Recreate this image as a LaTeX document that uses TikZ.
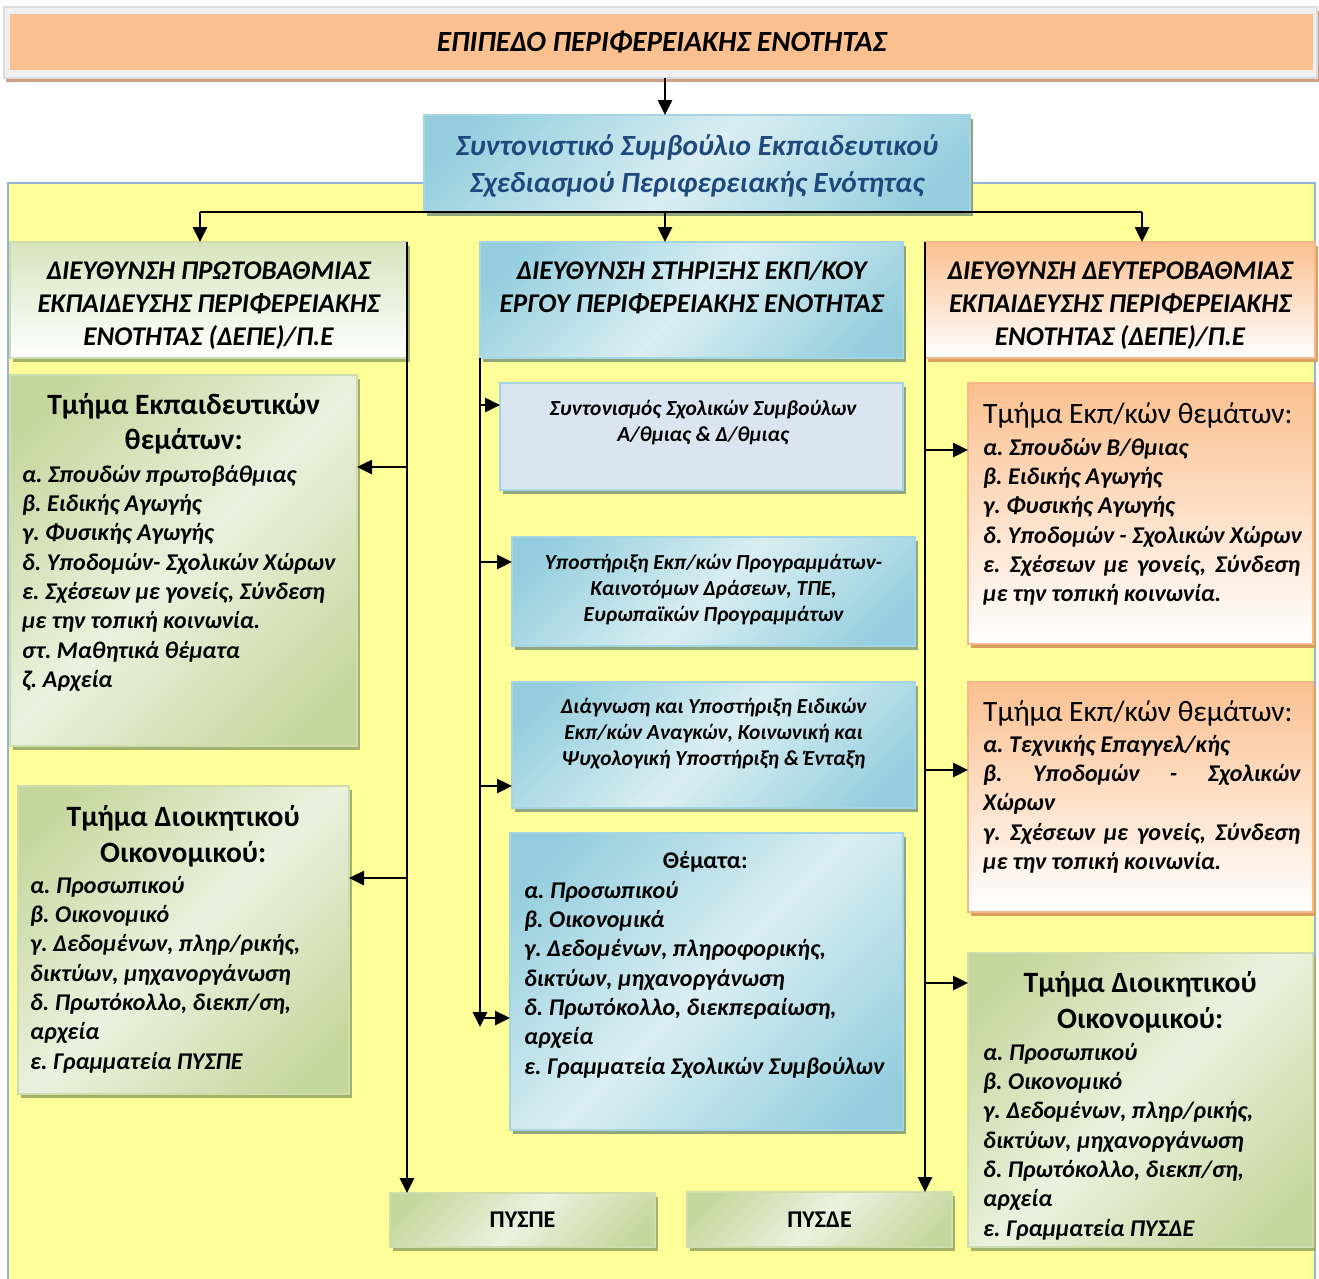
\documentclass[tikz,border=0pt]{standalone}
\usepackage{fontspec}
\setmainfont{Carlito}
\usetikzlibrary{arrows.meta,shadows}

% Farben
\definecolor{grnD}{HTML}{C3D69B}
\definecolor{grnL}{HTML}{EBF1DE}
\definecolor{grnH}{HTML}{D7E4BD}
\definecolor{grnB}{HTML}{CDDDAC}
\definecolor{grnS}{HTML}{A3B16A}
\definecolor{bluD}{HTML}{93CDDD}
\definecolor{bluL}{HTML}{DAEEF3}
\definecolor{bluB}{HTML}{A5D5E2}
\definecolor{bluS}{HTML}{8FA67E}
\definecolor{orgT}{HTML}{FAC090}
\definecolor{orgB}{HTML}{F6B88A}
\definecolor{orgS}{HTML}{D5A15D}
\definecolor{lavF}{HTML}{DBE5F1}
\definecolor{yelF}{HTML}{FFFF99}
\definecolor{yelB}{HTML}{95B3D7}
\definecolor{gryF}{HTML}{F0F0F0}
\definecolor{gryB}{HTML}{DCDCDC}
\definecolor{banS}{HTML}{CCA385}
\definecolor{navyT}{HTML}{1F497D}

\pgfdeclareverticalshading{grndiag}{100bp}{color(0bp)=(grnD); color(20bp)=(grnD); color(50bp)=(grnL); color(80bp)=(grnD); color(100bp)=(grnD)}
\pgfdeclareverticalshading{bludiag}{100bp}{color(0bp)=(bluD); color(20bp)=(bluD); color(50bp)=(bluL); color(80bp)=(bluD); color(100bp)=(bluD)}

% Schriften
\newcommand{\itm}{\fontsize{24}{29.3}\selectfont\bfseries\itshape}
\newcommand{\sml}{\fontsize{21.4}{25.8}\selectfont\bfseries\itshape}
\newcommand{\ttl}{\fontsize{29.5}{36}\selectfont\bfseries\upshape}
\newcommand{\ottl}{\fontsize{29.5}{36}\selectfont\mdseries\upshape}
\newcommand{\hdf}{\fontsize{27}{33}\selectfont\bfseries\itshape}
\newcommand{\cnf}{\fontsize{29.3}{37}\selectfont\bfseries\itshape}
\newcommand{\bnf}{\fontsize{29.3}{35}\selectfont\bfseries\itshape}
\newcommand{\pyf}{\fontsize{24}{29}\selectfont\bfseries\upshape}
\newcommand{\hgt}{\rule{0pt}{25pt}}

\tikzset{
  panel/.style={inner sep=0pt,outer sep=0pt,anchor=north west,line width=1.5pt},
  grnbox/.style={panel,draw=grnB,shading=grndiag,shading angle=45,
    drop shadow={shadow xshift=3pt,shadow yshift=-4pt,fill=grnS,opacity=1}},
  blubox/.style={panel,draw=bluB,shading=bludiag,shading angle=45,
    drop shadow={shadow xshift=3pt,shadow yshift=-4pt,fill=bluS,opacity=1}},
  orgbox/.style={panel,draw=orgB,top color=orgT,bottom color=white,
    drop shadow={shadow xshift=3pt,shadow yshift=-4pt,fill=orgS,opacity=1}},
  txt/.style={inner sep=0pt,anchor=north west,align=left,font=\itm},
  ctxt/.style={inner sep=0pt,anchor=north,align=center},
  lnk/.style={line width=2.6pt}
}

\begin{document}
\frenchspacing
\begin{tikzpicture}[x=1pt,y=-1pt,>={Triangle[length=15pt,width=14pt]}]
\useasboundingbox (0,0) rectangle (1319,1278);

% Kopfzeile
\node[panel,draw=gryB,fill=gryF,minimum width=1313pt,minimum height=71pt,
  drop shadow={shadow xshift=2pt,shadow yshift=-4pt,fill=banS,opacity=1}] (frame) at (4,7) {};
\node[panel,fill=orgT,minimum width=1303pt,minimum height=56pt,font=\bnf] (level) at (10,14)
  {ΕΠΙΠΕΔΟ ΠΕΡΙΦΕΡΕΙΑΚΗΣ ΕΝΟΤΗΤΑΣ};

% gelber Bereich
\draw[yelB,fill=yelF,line width=2.5pt] (8,183) rectangle (1315,1290);

\node[blubox,minimum width=546pt,minimum height=97pt] (council) at (424,115) {};
\node[ctxt,text=navyT,font=\cnf] (councilt) at ([shift={(0,15)}]council.north)
  {\hgt Συντονιστικό Συμβούλιο Εκπαιδευτικού\\Σχεδιασμού Περιφερειακής Ενότητας};

% Direktionen
\node[panel,draw=grnB,top color=grnH,bottom color=white,
  drop shadow={shadow xshift=3pt,shadow yshift=-4pt,fill=grnS,opacity=1},
  minimum width=397pt,minimum height=116pt] (dpe) at (10,242) {};
\node[ctxt,font=\hdf] (dpet) at ([shift={(0,12)}]dpe.north)
  {\hgt ΔΙΕΥΘΥΝΣΗ ΠΡΩΤΟΒΑΘΜΙΑΣ\\ΕΚΠΑΙΔΕΥΣΗΣ ΠΕΡΙΦΕΡΕΙΑΚΗΣ\\ΕΝΟΤΗΤΑΣ (ΔΕΠΕ)/Π.Ε};
\node[blubox,minimum width=423pt,minimum height=116pt] (dsee) at (480,242) {};
\node[ctxt,font=\hdf] (dseet) at ([shift={(0,12)}]dsee.north)
  {\hgt ΔΙΕΥΘΥΝΣΗ ΣΤΗΡΙΞΗΣ ΕΚΠ/ΚΟΥ\\ΕΡΓΟΥ ΠΕΡΙΦΕΡΕΙΑΚΗΣ ΕΝΟΤΗΤΑΣ};
\node[orgbox,minimum width=390pt,minimum height=116pt] (dde) at (925,242) {};
\node[ctxt,font=\hdf] (ddet) at ([shift={(0,12)}]dde.north)
  {\hgt ΔΙΕΥΘΥΝΣΗ ΔΕΥΤΕΡΟΒΑΘΜΙΑΣ\\ΕΚΠΑΙΔΕΥΣΗΣ ΠΕΡΙΦΕΡΕΙΑΚΗΣ\\ΕΝΟΤΗΤΑΣ (ΔΕΠΕ)/Π.Ε};

% linke Spalte
\node[grnbox,minimum width=347pt,minimum height=371pt] (edu1) at (10,375) {};
\node[txt] (edu1t) at ([shift={(12,14)}]edu1.north west)
  {\hgt\makebox[323pt]{\ttl Τμήμα Εκπαιδευτικών}\\[5.7pt]
   \makebox[323pt]{\ttl θεμάτων:}\\[3.7pt]
   α. Σπουδών πρωτοβάθμιας\\
   β. Ειδικής Αγωγής\\
   γ. Φυσικής Αγωγής\\
   δ. Υποδομών- Σχολικών Χώρων\\
   ε. Σχέσεων με γονείς, Σύνδεση\\
   με την τοπική κοινωνία.\\
   στ. Μαθητικά θέματα\\
   ζ. Αρχεία};

\node[grnbox,minimum width=331pt,minimum height=308pt] (adm1) at (18,786) {};
\node[txt] (adm1t) at ([shift={(12,15)}]adm1.north west)
  {\hgt\makebox[306pt]{\ttl Τμήμα Διοικητικού}\\[6.7pt]
   \makebox[306pt]{\ttl Οικονομικού:}\\[1.7pt]
   α. Προσωπικού\\
   β. Οικονομικό\\
   γ. Δεδομένων, πληρ/ρικής,\\
   δικτύων, μηχανοργάνωση\\
   δ. Πρωτόκολλο, διεκπ/ση,\\
   αρχεία\\
   ε. Γραμματεία ΠΥΣΠΕ};

% mittlere Spalte
\node[panel,draw=bluB,fill=lavF,minimum width=403pt,minimum height=107pt,
  drop shadow={shadow xshift=3pt,shadow yshift=-4pt,fill=bluS,opacity=1}] (coord) at (500,383) {};
\node[ctxt,font=\sml] (coordt) at ([shift={(1.5,7.3)}]coord.north)
  {\hgt Συντονισμός Σχολικών Συμβούλων\\Α/θμιας \& Δ/θμιας};

\node[blubox,minimum width=403pt,minimum height=109pt] (supp) at (512,537) {};
\node[ctxt,font=\sml] (suppt) at ([shift={(0,7.3)}]supp.north)
  {\hgt Υποστήριξη Εκπ/κών Προγραμμάτων-\\Καινοτόμων Δράσεων, ΤΠΕ,\\Ευρωπαϊκών Προγραμμάτων};

\node[blubox,minimum width=403pt,minimum height=126pt] (diag) at (512,682) {};
\node[ctxt,font=\sml] (diagt) at ([shift={(0,6.3)}]diag.north)
  {\hgt Διάγνωση και Υποστήριξη Ειδικών\\Εκπ/κών Αναγκών, Κοινωνική και\\Ψυχολογική Υποστήριξη \& Ένταξη};

\node[blubox,minimum width=393pt,minimum height=297pt] (themes) at (510,833) {};
\node[txt] (themest) at ([shift={(14,10)}]themes.north west)
  {\hgt\makebox[362pt]{\bfseries\upshape Θέματα:}\\[0.7pt]
   α. Προσωπικού\\
   β. Οικονομικά\\
   γ. Δεδομένων, πληροφορικής,\\
   δικτύων, μηχανοργάνωση\\
   δ. Πρωτόκολλο, διεκπεραίωση,\\
   αρχεία\\
   ε. Γραμματεία Σχολικών Συμβούλων};

% rechte Spalte
\node[orgbox,minimum width=345pt,minimum height=261pt] (edu2) at (968,383) {};
\node[txt] (edu2t) at ([shift={(15,15)}]edu2.north west)
  {\hgt{\ottl Τμήμα Εκπ/κών θεμάτων:}\\[2.7pt]
   α. Σπουδών Β/θμιας\\
   β. Ειδικής Αγωγής\\
   γ. Φυσικής Αγωγής\\
   δ. Υποδομών - Σχολικών Χώρων\\
   \makebox[317pt][s]{ε. Σχέσεων με γονείς, Σύνδεση}\\
   με την τοπική κοινωνία.};

\node[orgbox,minimum width=345pt,minimum height=230pt] (edu3) at (968,682) {};
\node[txt] (edu3t) at ([shift={(15,14)}]edu3.north west)
  {\hgt{\ottl Τμήμα Εκπ/κών θεμάτων:}\\[1.7pt]
   α. Τεχνικής Επαγγελ/κής\\
   \makebox[317pt][s]{β. Υποδομών - Σχολικών}\\
   Χώρων\\
   \makebox[317pt][s]{γ. Σχέσεων με γονείς, Σύνδεση}\\
   με την τοπική κοινωνία.};

\node[grnbox,minimum width=345pt,minimum height=294pt] (adm2) at (968,953) {};
\node[txt] (adm2t) at ([shift={(15,14)}]adm2.north west)
  {\hgt\makebox[314pt]{\ttl Τμήμα Διοικητικού}\\[6.7pt]
   \makebox[314pt]{\ttl Οικονομικού:}\\[2.7pt]
   α. Προσωπικού\\
   β. Οικονομικό\\
   γ. Δεδομένων, πληρ/ρικής,\\
   δικτύων, μηχανοργάνωση\\
   δ. Πρωτόκολλο, διεκπ/ση,\\
   αρχεία\\
   ε. Γραμματεία ΠΥΣΔΕ};

% Räte unten
\node[grnbox,minimum width=265pt,minimum height=54pt,font=\pyf] (pyspe) at (390,1193) {ΠΥΣΠΕ};
\node[grnbox,minimum width=265pt,minimum height=55pt,font=\pyf] (pysde) at (687,1192) {ΠΥΣΔΕ};

% Pfeile oben
\coordinate (busL) at (200,212);
\coordinate (busM) at (665,212);
\coordinate (busR) at (1142,212);
\draw[lnk,->] (frame.south -| busM) -- (busM |- council.north);
\draw[lnk] (busL) -- (busR);
\draw[lnk,->] (busL) -- (busL |- dpe.north);
\draw[lnk,->] (busM) -- (busM |- dsee.north);
\draw[lnk,->] (busR) -- (busR |- dde.north);

% links
\coordinate (l1) at (407,467);
\coordinate (l2) at (407,878);
\draw[lnk,->] (dpe.north east) -- (dpe.north east |- pyspe.north);
\draw[lnk,->] (l1) -- (l1 -| edu1.east);
\draw[lnk,->] (l2) -- (l2 -| adm1.east);

% Mitte
\coordinate (m1) at (480,405);
\coordinate (m2) at (480,562);
\coordinate (m3) at (480,786);
\coordinate (m4) at (480,1018);
\coordinate (mEnd) at (480,1027);
\draw[lnk,->] (dsee.south west) -- (mEnd);
\draw[lnk,->] (m1) -- (m1 -| coord.west);
\draw[lnk,->] (m2) -- (m2 -| supp.west);
\draw[lnk,->] (m3) -- (m3 -| diag.west);
\draw[lnk,->] (m4) -- (m4 -| themes.west);

% rechts
\coordinate (r1) at (925,450);
\coordinate (r2) at (925,770);
\coordinate (r3) at (925,983);
\draw[lnk,->] (dde.north west) -- (dde.north west |- pysde.north);
\draw[lnk,->] (r1) -- (r1 -| edu2.west);
\draw[lnk,->] (r2) -- (r2 -| edu3.west);
\draw[lnk,->] (r3) -- (r3 -| adm2.west);

\end{tikzpicture}
\end{document}
